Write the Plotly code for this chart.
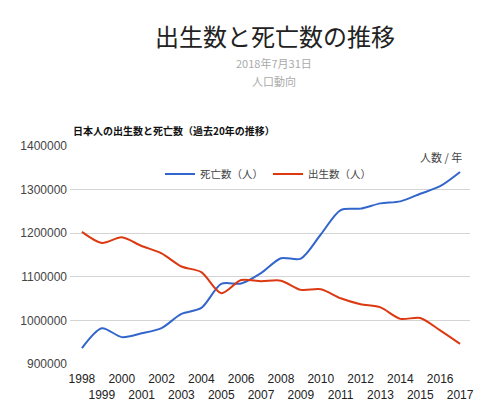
import plotly.graph_objects as go

# 日本人の出生数と死亡数（過去20年）
years = list(range(1998, 2018))
deaths = [936484, 982031, 961653, 970331, 982379, 1014951, 1028602, 1083796, 1084450, 1108334,
          1142407, 1141865, 1197012, 1253066, 1256359, 1268436, 1273004, 1290444, 1307748, 1340397]
births = [1203147, 1177669, 1190547, 1170662, 1153855, 1123610, 1110721, 1062530, 1092674, 1089818,
          1091156, 1070035, 1071304, 1050806, 1037231, 1029816, 1003539, 1005677, 976978, 946065]
y_ticks = [900000, 1000000, 1100000, 1200000, 1300000, 1400000]

# staggered year labels: odd years on the second row
tick_text = [str(y) if y % 2 == 0 else "<br>" + str(y) for y in years]

font_num = "Liberation Sans, Arial, sans-serif"
font_jp = "Noto Sans CJK JP, sans-serif"

# the page body has an 8px margin, so lay everything out 8px up/left
W, H = 500, 414
OFF = 8
l, r, t, b = 70 - OFF, 30 + OFF, 146 - OFF, 50 + OFF
pw, ph = W - l - r, H - t - b


def px(x, y):
    # screen pixel position -> paper coordinates
    return (x - OFF - l) / pw, (H - b - (y - OFF)) / ph


fig = go.Figure()
fig.add_trace(go.Scatter(x=years, y=deaths, name="死亡数（人）", mode="lines",
                         line=dict(color="#3366CC", width=2, shape="spline", smoothing=0.8)))
fig.add_trace(go.Scatter(x=years, y=births, name="出生数（人）", mode="lines",
                         line=dict(color="#DC3912", width=2, shape="spline", smoothing=0.8)))

header = [
    ("出生数と死亡数の推移", 275, 35, "center", dict(family=font_jp, size=24, color="#222")),
    ("2018年7月31日", 274, 63, "center", dict(family=font_jp, size=11, color="#aaa")),
    ("人口動向", 274, 81, "center", dict(family=font_jp, size=11, color="#aaa")),
    ("<b>日本人の出生数と死亡数（過去20年の推移）</b>", 71, 130, "left",
     dict(family=font_jp, size=10, color="#111")),
    ("人数 / 年", 464, 157, "right", dict(family=font_jp, size=11, color="#444")),
]
annotations = []
for text, sx, sy, anchor, f in header:
    ax, ay = px(sx, sy)
    annotations.append(dict(text=text, x=ax, y=ay, xref="paper", yref="paper", showarrow=False,
                            xanchor=anchor, yanchor="middle", font=f))

lx, ly = px(268, 174)
fig.update_layout(
    width=W, height=H,
    margin=dict(l=l, r=r, t=t, b=b),
    plot_bgcolor="white", paper_bgcolor="white",
    showlegend=True,
    legend=dict(orientation="h", x=lx, xanchor="center", y=ly, yanchor="middle",
                font=dict(family=font_jp, size=10.5, color="#444"), bgcolor="rgba(0,0,0,0)",
                itemwidth=30),
    xaxis=dict(range=[1997.4, 2017.5], tickvals=years, ticktext=tick_text, showgrid=False,
               zeroline=False, showline=False, ticks="", tickangle=0, ticklabelstandoff=6,
               automargin=False, tickfont=dict(family=font_num, size=12, color="#222")),
    yaxis=dict(range=[900000, 1400000], tickvals=y_ticks, ticktext=[str(v) for v in y_ticks],
               showgrid=True, gridcolor="#d4d4d4", gridwidth=1, zeroline=False, showline=False,
               ticks="", automargin=False, ticklabelstandoff=2,
               tickfont=dict(family=font_num, size=12, color="#444")),
    annotations=annotations,
)

fig.write_html("out.html")
